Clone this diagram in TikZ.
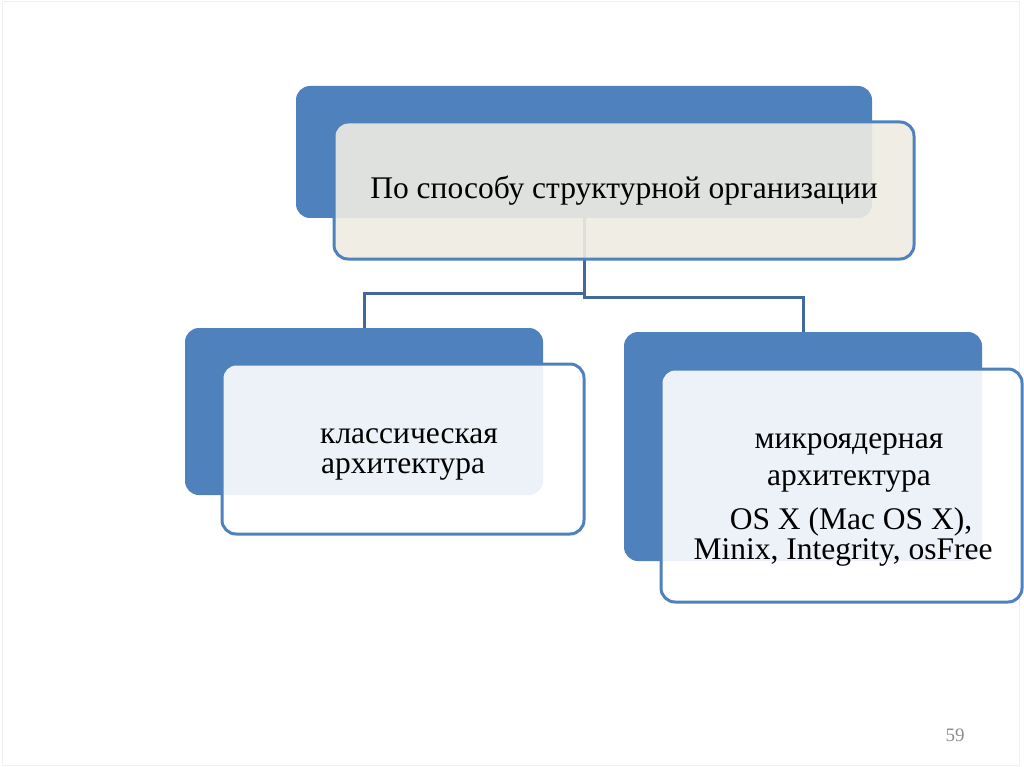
\documentclass[tikz,border=0pt]{standalone}
\usepackage{fontspec}
\setmainfont{Liberation Serif}
\definecolor{accent}{HTML}{4F81BD}
\definecolor{linkc}{HTML}{41699B}
\definecolor{beige}{HTML}{EEECE1}
\definecolor{pgnum}{HTML}{8C8C8C}
\begin{document}
\begin{tikzpicture}[x=1pt,y=-1pt,
  backbox/.style={fill=accent, draw=none, rounded corners=14pt, inner sep=0pt},
  frontbox/.style={draw=accent, line width=3pt, rounded corners=14pt, fill opacity=0.9, text opacity=1, inner sep=0pt},
  linkline/.style={draw=linkc, line width=3pt},
  txt/.style={inner sep=0pt, font=\fontsize{31.5}{34}\selectfont, text=black}]
\useasboundingbox (0,0) rectangle (1024,767);
\draw[gray!12, line width=1pt] (2,2) rectangle (1019,765);
% back boxes
\node[backbox, minimum width=576pt, minimum height=132pt] (topback) at (584,152) {};
\node[backbox, minimum width=358pt, minimum height=167pt] (lback) at (364,411.5) {};
\node[backbox, minimum width=358pt, minimum height=229pt] (rback) at (803,446.5) {};
% connectors
\coordinate (j1) at (584,293);
\coordinate (j2) at (584,297);
\draw[linkline] (topback.south) -- (j2) -| (rback.north);
\draw[linkline] (j1) -| (lback.north);
% front boxes
\node[frontbox, fill=beige, minimum width=580pt, minimum height=137pt] (topfront) at (624,190.5) {};
\node[frontbox, fill=white, minimum width=362pt, minimum height=170pt] (lfront) at (403,449) {};
\node[frontbox, fill=white, minimum width=361pt, minimum height=233pt] (rfront) at (841.5,485.5) {};
% texts
\node[txt, anchor=base] (t0) at (624,199) {По способу структурной организации};
\node[txt, anchor=base west] (l1) at (320,443) {классическая};
\node[txt, anchor=base west] (l2) at (321,473) {архитектура};
\node[txt, anchor=base] (r1) at (849,448) {микроядерная};
\node[txt, anchor=base] (r2) at (849,485) {архитектура};
\node[txt, anchor=base] (r3) at (851,529) {OS X (Mac OS X),};
\node[txt, anchor=base] (r4) at (843,559) {Minix, Integrity, osFree};
\node[inner sep=0pt, font=\fontsize{19}{21}\selectfont, text=pgnum, anchor=base] (pg) at (955,741) {59};
\end{tikzpicture}
\end{document}
